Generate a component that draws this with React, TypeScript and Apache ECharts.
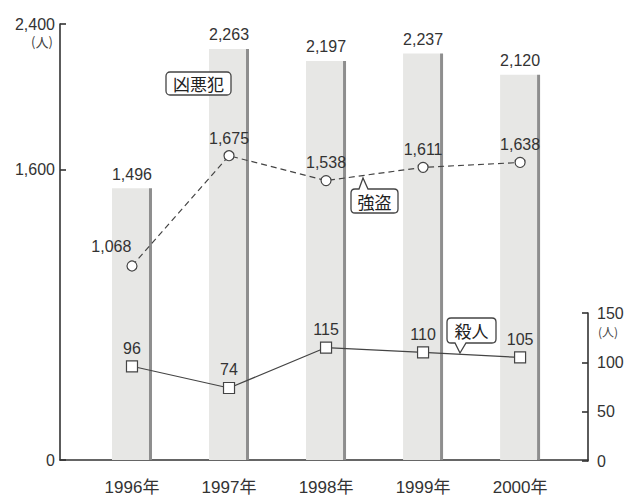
import React, { useEffect, useRef } from "react";
import * as echarts from "echarts";

const years = [1996, 1997, 1998, 1999, 2000];
const yearLabels = ["1996年", "1997年", "1998年", "1999年", "2000年"];
const violent = [1496, 2263, 2197, 2237, 2120];
const robbery = [1068, 1675, 1538, 1611, 1638];
const murder = [96, 74, 115, 110, 105];
const leftTicks = [0, 1600, 2400];
const rightTicks = [0, 50, 100, 150];

const NUM_FONT = "'Liberation Sans', Arial, 'Noto Sans CJK JP', sans-serif";
const CJK_FONT = "'Noto Sans CJK JP', sans-serif";
const fmt = (v: number) => v.toLocaleString("en-US");

const upPath =
  "M4 0 L8 0 L12 -11 L17 0 L43 0 Q47 0 47 4 L47 20 Q47 24 43 24 L4 24 Q0 24 0 20 L0 4 Q0 0 4 0 Z";
const downPath =
  "M4 0 L45 0 Q49 0 49 4 L49 21 Q49 25 45 25 L19 25 L13 35 L8 25 L4 25 Q0 25 0 21 L0 4 Q0 0 4 0 Z";

echarts.graphic.registerShape("calloutUp", echarts.graphic.extendPath(upPath, {}) as any);
echarts.graphic.registerShape("calloutDown", echarts.graphic.extendPath(downPath, {}) as any);

const X_MIN = 1995.258;
const X_MAX = 2000.7;

export default function App() {
  const ref = useRef<HTMLDivElement>(null);
  useEffect(() => {
    if (!ref.current) return;
    const chart = echarts.init(ref.current, null, { renderer: "svg" });
    const barData = years.map((y, i) => [y, violent[i]]);
    const robData = years.map((y, i) =>
      i === 0
        ? { value: [y, robbery[i]], label: { position: "left", offset: [9, -19] } }
        : { value: [y, robbery[i]] }
    );
    const murData = years.map((y, i) => [y, murder[i]]);
    const axisLineStyle = { color: "#333", width: 1.6 };

    chart.setOption({
      animation: false,
      backgroundColor: "#ffffff",
      grid: [
        { left: 60, right: 40, top: 24, bottom: 35 },
        { left: 60, right: 40, top: 313, bottom: 35 },
      ],
      xAxis: [
        {
          type: "value",
          gridIndex: 0,
          min: X_MIN,
          max: X_MAX,
          splitLine: { show: false },
          axisLine: { show: true, lineStyle: axisLineStyle },
          axisTick: { show: false },
          axisLabel: {
            customValues: years,
            formatter: (v: number) => yearLabels[years.indexOf(Math.round(v))] || "",
            color: "#333",
            fontSize: 17,
            fontFamily: NUM_FONT,
            margin: 19,
          },
        },
        {
          type: "value",
          gridIndex: 1,
          min: X_MIN,
          max: X_MAX,
          show: false,
        },
      ],
      yAxis: [
        {
          type: "value",
          gridIndex: 0,
          min: 0,
          max: 2400,
          position: "left",
          splitLine: { show: false },
          axisLine: { show: true, lineStyle: axisLineStyle },
          axisTick: {
            show: true,
            inside: true,
            length: 6,
            customValues: leftTicks,
            lineStyle: axisLineStyle,
          },
          axisLabel: {
            customValues: leftTicks,
            formatter: (v: number) => fmt(v),
            color: "#333",
            fontSize: 16,
            fontFamily: NUM_FONT,
            margin: 5,
          },
        },
        {
          type: "value",
          gridIndex: 1,
          min: 0,
          max: 150,
          position: "right",
          splitLine: { show: false },
          axisLine: { show: true, lineStyle: axisLineStyle },
          axisTick: {
            show: true,
            inside: true,
            length: 6,
            customValues: rightTicks,
            lineStyle: axisLineStyle,
          },
          axisLabel: {
            customValues: rightTicks,
            color: "#333",
            fontSize: 16,
            fontFamily: NUM_FONT,
            margin: 9,
          },
        },
      ],
      series: [
        {
          type: "custom",
          xAxisIndex: 0,
          yAxisIndex: 0,
          data: barData,
          z: 1,
          renderItem: (params: any, api: any) => {
            const x = api.value(0);
            const v = api.value(1);
            const top = api.coord([x, v]);
            const bottom = api.coord([x, 0]);
            const w = 40;
            const h = bottom[1] - top[1];
            return {
              type: "group",
              children: [
                {
                  type: "rect",
                  shape: { x: top[0] - w / 2, y: top[1], width: w - 3, height: h },
                  style: { fill: "#e7e7e5" },
                },
                {
                  type: "rect",
                  shape: { x: top[0] + w / 2 - 3, y: top[1], width: 3, height: h },
                  style: { fill: "#8e8e8e" },
                },
                {
                  type: "text",
                  style: {
                    text: fmt(v),
                    x: top[0],
                    y: top[1] - 6,
                    align: "center",
                    verticalAlign: "bottom",
                    fill: "#333",
                    fontSize: 16,
                    fontFamily: NUM_FONT,
                  },
                },
              ],
            };
          },
        },
        {
          type: "line",
          xAxisIndex: 0,
          yAxisIndex: 0,
          data: robData,
          z: 3,
          symbol: "circle",
          symbolSize: 10,
          lineStyle: { color: "#444", width: 1.2, type: [6, 4] },
          itemStyle: { color: "#fff", borderColor: "#444", borderWidth: 1.2 },
          label: {
            show: true,
            position: "top",
            distance: 4,
            formatter: (p: any) => fmt(p.value[1]),
            color: "#333",
            fontSize: 16,
            fontFamily: NUM_FONT,
          },
        },
        {
          type: "line",
          xAxisIndex: 1,
          yAxisIndex: 1,
          data: murData,
          z: 3,
          clip: false,
          symbol: "rect",
          symbolSize: 11,
          lineStyle: { color: "#444", width: 1.2 },
          itemStyle: { color: "#fff", borderColor: "#444", borderWidth: 1.2 },
          label: {
            show: true,
            position: "top",
            distance: 4,
            formatter: (p: any) => String(p.value[1]),
            color: "#333",
            fontSize: 16,
            fontFamily: NUM_FONT,
          },
        },
      ],
      graphic: [
        {
          type: "text",
          left: 31,
          top: 35,
          style: { text: "(人)", fill: "#444", fontSize: 13, fontFamily: CJK_FONT },
        },
        {
          type: "text",
          left: 598,
          top: 325,
          style: { text: "(人)", fill: "#444", fontSize: 12, fontFamily: CJK_FONT },
        },
        {
          type: "rect",
          shape: { x: 166, y: 72, width: 65, height: 23, r: 4 },
          style: { fill: "#fff", stroke: "#444", lineWidth: 1.3 },
          z: 10,
        },
        {
          type: "text",
          x: 198.5,
          y: 83.5,
          style: {
            text: "凶悪犯",
            align: "center",
            verticalAlign: "middle",
            fill: "#222",
            fontSize: 17,
            fontFamily: CJK_FONT,
          },
          z: 11,
        },
        {
          type: "calloutUp",
          x: 351,
          y: 189,
          style: { fill: "#fff", stroke: "#444", lineWidth: 1.3 },
          z: 10,
        },
        {
          type: "text",
          x: 374.5,
          y: 201,
          style: {
            text: "強盗",
            align: "center",
            verticalAlign: "middle",
            fill: "#222",
            fontSize: 17,
            fontFamily: CJK_FONT,
          },
          z: 11,
        },
        {
          type: "calloutDown",
          x: 447,
          y: 318,
          style: { fill: "#fff", stroke: "#444", lineWidth: 1.3 },
          z: 10,
        },
        {
          type: "text",
          x: 471.5,
          y: 330.5,
          style: {
            text: "殺人",
            align: "center",
            verticalAlign: "middle",
            fill: "#222",
            fontSize: 17,
            fontFamily: CJK_FONT,
          },
          z: 11,
        },
      ],
    });
    return () => chart.dispose();
  }, []);
  return (
    <div
      ref={ref}
      style={{ position: "fixed", left: 0, top: 0, width: 628, height: 496 }}
    />
  );
}
